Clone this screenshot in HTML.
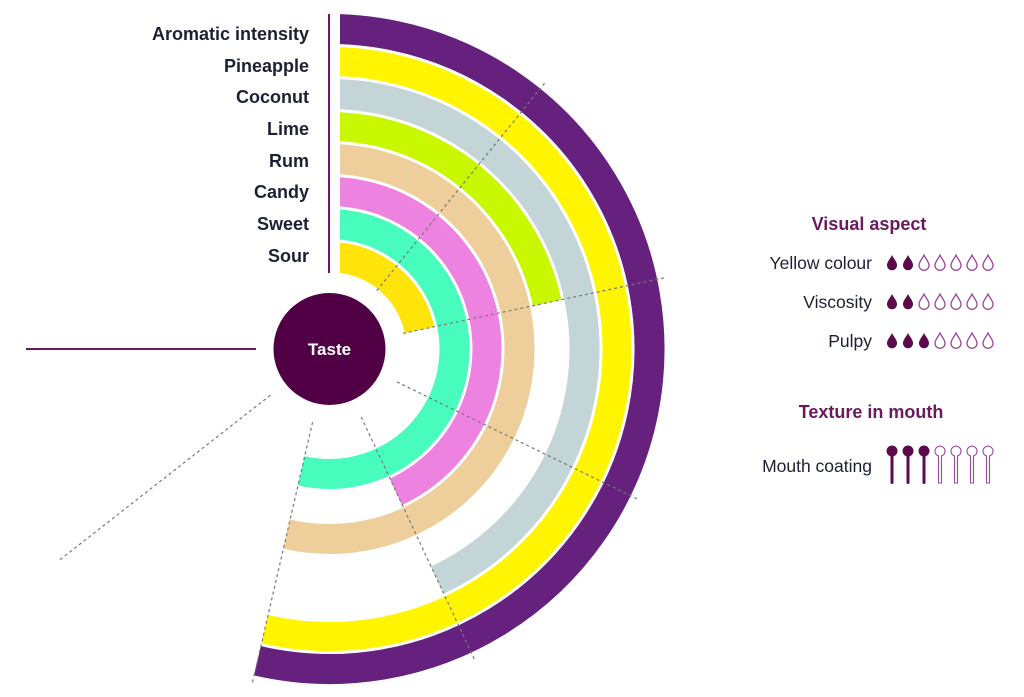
<!DOCTYPE html>
<html><head><meta charset="utf-8"><style>
html,body{margin:0;padding:0;background:#fff;}
svg{display:block;}
text{font-family:"Liberation Sans",sans-serif;}
</style></head><body>
<svg width="1024" height="697" viewBox="0 0 1024 697" xmlns="http://www.w3.org/2000/svg">
<defs>
<clipPath id="c"><path d="M0,349 H340 V0 H1024 V697 H0 Z"/></clipPath>
<symbol id="drop" viewBox="0 0 10 14"><path d="M5,0.8 C6.5,4 9.2,6.5 9.2,9.3 A4.2,4.2 0 0 1 0.8,9.3 C0.8,6.5 3.5,4 5,0.8 Z"/></symbol>
</defs>
<g clip-path="url(#c)" fill="none">
<g transform="rotate(-100 329.5 349)">
<circle cx="329.5" cy="349" r="320" stroke="#66207e" stroke-width="30" stroke-dasharray="1133.8 3000"/>
<circle cx="329.5" cy="349" r="287.5" stroke="#fff500" stroke-width="29" stroke-dasharray="1018.6 3000"/>
<circle cx="329.5" cy="349" r="255" stroke="#c3d5d7" stroke-width="30" stroke-dasharray="734.3 3000"/>
<circle cx="329.5" cy="349" r="222.5" stroke="#c8f700" stroke-width="29" stroke-dasharray="341.7 3000"/>
<circle cx="329.5" cy="349" r="190" stroke="#eecf9b" stroke-width="30" stroke-dasharray="673.2 3000"/>
<circle cx="329.5" cy="349" r="157.5" stroke="#ee82e0" stroke-width="29" stroke-dasharray="453.6 3000"/>
<circle cx="329.5" cy="349" r="125" stroke="#48fcbe" stroke-width="30" stroke-dasharray="442.9 3000"/>
<circle cx="329.5" cy="349" r="92" stroke="#ffe40a" stroke-width="30" stroke-dasharray="141.3 3000"/>
</g>
</g>
<g stroke="#777" stroke-width="1.2" stroke-dasharray="3 3">
<line x1="376.7" y1="290.7" x2="544.6" y2="83.2"/>
<line x1="402.9" y1="333.4" x2="664" y2="277.9"/>
<line x1="396.9" y1="381.9" x2="636.9" y2="498.8"/>
<line x1="361.2" y1="417" x2="474.2" y2="658.9"/>
<line x1="312.6" y1="422.1" x2="252.6" y2="682.2"/>
<line x1="270.4" y1="395.2" x2="60" y2="559.7"/>
</g>
<line x1="329" y1="14" x2="329" y2="273" stroke="#6a1a5e" stroke-width="2"/>
<line x1="26" y1="349" x2="256" y2="349" stroke="#6a1a5e" stroke-width="2"/>
<circle cx="329.5" cy="349" r="56" fill="#520046"/>
<text x="329.5" y="355" fill="#fff" font-size="17" font-weight="bold" text-anchor="middle">Taste</text>
<g fill="#1c2033" font-size="18" font-weight="bold" text-anchor="end">
<text x="309" y="40">Aromatic intensity</text>
<text x="309" y="72">Pineapple</text>
<text x="309" y="103">Coconut</text>
<text x="309" y="135">Lime</text>
<text x="309" y="167">Rum</text>
<text x="309" y="198">Candy</text>
<text x="309" y="230">Sweet</text>
<text x="309" y="262">Sour</text>
</g>
<g fill="#6a1a5e" font-size="18" font-weight="bold" text-anchor="middle">
<text x="869" y="230">Visual aspect</text>
<text x="871" y="418">Texture in mouth</text>
</g>
<g fill="#1c2033" font-size="17.5" text-anchor="end">
<text x="872" y="269">Yellow colour</text>
<text x="872" y="308">Viscosity</text>
<text x="872" y="347">Pulpy</text>
<text x="872" y="472">Mouth coating</text>
</g>
<g fill="#5c0a4a">
<use href="#drop" x="886" y="254" width="12" height="17"/><use href="#drop" x="902" y="254" width="12" height="17"/>
<use href="#drop" x="886" y="293" width="12" height="17"/><use href="#drop" x="902" y="293" width="12" height="17"/>
<use href="#drop" x="886" y="332" width="12" height="17"/><use href="#drop" x="902" y="332" width="12" height="17"/><use href="#drop" x="918" y="332" width="12" height="17"/>
</g>
<g fill="none" stroke="#9a4a9a" stroke-width="1.1">
<use href="#drop" x="918" y="254" width="12" height="17"/><use href="#drop" x="934" y="254" width="12" height="17"/><use href="#drop" x="950" y="254" width="12" height="17"/><use href="#drop" x="966" y="254" width="12" height="17"/><use href="#drop" x="982" y="254" width="12" height="17"/>
<use href="#drop" x="918" y="293" width="12" height="17"/><use href="#drop" x="934" y="293" width="12" height="17"/><use href="#drop" x="950" y="293" width="12" height="17"/><use href="#drop" x="966" y="293" width="12" height="17"/><use href="#drop" x="982" y="293" width="12" height="17"/>
<use href="#drop" x="934" y="332" width="12" height="17"/><use href="#drop" x="950" y="332" width="12" height="17"/><use href="#drop" x="966" y="332" width="12" height="17"/><use href="#drop" x="982" y="332" width="12" height="17"/>
</g>
<g fill="#5c0a4a">
<circle cx="892" cy="451" r="5.5"/><rect x="890.5" y="452" width="3" height="32" rx="1.5"/>
<circle cx="908" cy="451" r="5.5"/><rect x="906.5" y="452" width="3" height="32" rx="1.5"/>
<circle cx="924" cy="451" r="5.5"/><rect x="922.5" y="452" width="3" height="32" rx="1.5"/>
</g>
<g fill="none" stroke="#9a4a9a" stroke-width="1.1">
<path d="M938.5,456 A5,5 0 1 1 941.5,456 V483 H938.5 Z"/>
<path d="M954.5,456 A5,5 0 1 1 957.5,456 V483 H954.5 Z"/>
<path d="M970.5,456 A5,5 0 1 1 973.5,456 V483 H970.5 Z"/>
<path d="M986.5,456 A5,5 0 1 1 989.5,456 V483 H986.5 Z"/>
</g>
</svg>
</body></html>
